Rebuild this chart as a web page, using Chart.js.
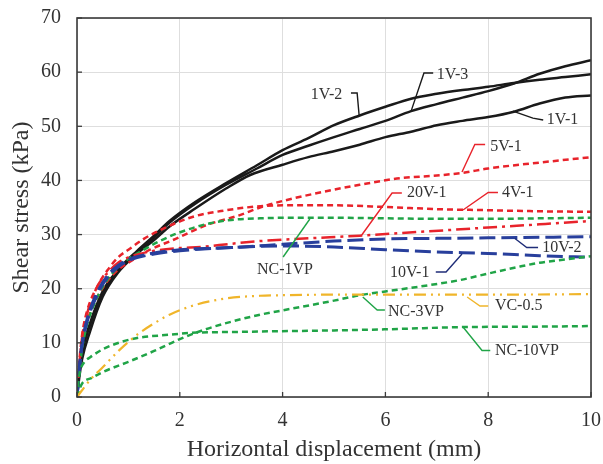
<!DOCTYPE html>
<html>
<head>
<meta charset="utf-8">
<script src="https://cdn.jsdelivr.net/npm/chart.js@4.4.1/dist/chart.umd.min.js"></script>
<style>
html,body{margin:0;padding:0;background:#fff;}
#wrap{width:603px;height:464px;}
</style>
</head>
<body>
<div id="wrap"><canvas id="c" width="603" height="464"></canvas></div>
<script>
// ---- data (x: horizontal displacement mm, y: shear stress kPa) ----
const xTicks = [0, 2, 4, 6, 8, 10];
const yTicks = [0, 10, 20, 30, 40, 50, 60, 70];

const s1V2_x = [0,0.05,0.1,0.25,0.5,0.8,1.17,1.5,1.8,2.3,2.9,3.5,4,4.5,5,5.5,6,6.5,7,7.5,8,8.5,9,9.5,10];
const s1V2_y = [0,5,8.5,13.5,19.5,23.5,27,29.8,32.5,36,39.5,42.8,45.6,47.8,50.2,52,53.6,55.1,56,56.7,57.3,58,58.6,59.1,59.6];
const s1V3_x = [0,0.05,0.1,0.25,0.5,0.8,1.17,1.5,1.8,2.3,2.9,3.5,4,4.5,5,5.5,6,6.5,7,7.5,8,8.5,9,9.5,10];
const s1V3_y = [0,5,8.3,13.2,19.2,23.3,26.8,29.5,32.2,35.7,39.2,42.2,44.7,46.4,48,49.5,51,52.8,54.1,55.3,56.5,57.9,59.7,61.1,62.2];
const s1V1_x = [0,0.05,0.1,0.25,0.5,0.8,1.17,1.5,1.8,2.3,2.9,3.37,4,4.5,5,5.5,6,6.5,7,7.5,8,8.5,9,9.5,10];
const s1V1_y = [0,4,7,12,18.5,23,26.5,29,31.5,34.8,38.5,41,42.9,44.3,45.4,46.6,48,49,50.2,51,51.7,52.7,54.2,55.3,55.7];

const s5V1_x = [0,0.05,0.1,0.2,0.4,0.6,0.8,1,1.42,1.87,2.53,3.17,3.56,4,5,5.5,6.28,7,7.5,8,9,10];
const s5V1_y = [0,6,10,14,18.5,21.5,23.5,24.8,27.2,29,31.8,33.6,35,36.2,38.3,39.2,40.4,40.9,41.4,42.2,43.3,44.3];
const s4V1_x = [0,0.05,0.1,0.2,0.4,0.6,0.8,1,1.3,1.61,2.26,2.91,3.5,4,5,6,7,8,9,10];
const s4V1_y = [0,7,11.5,16,20.5,23.5,25.8,27.2,29.2,30.8,33.3,34.5,35.2,35.4,35.4,35.1,34.7,34.5,34.3,34.2];
const s20V1_x = [0,0.05,0.1,0.2,0.4,0.6,0.8,1,1.5,2,2.4,3,3.56,4.5,5.5,6.67,8,9,10];
const s20V1_y = [0,6.5,11,15.5,20.5,23,24.8,25.8,27,27.5,27.7,28.3,28.8,29.3,29.8,30.5,31.3,31.9,32.5];

const s10V2_x = [0,0.05,0.1,0.2,0.4,0.6,0.8,1,1.5,2,3,4,5,6,7,8,9,10];
const s10V2_y = [0,6,10,14.5,19.5,22.5,24.3,25.4,26.6,27.2,27.6,28.2,28.8,29.2,29.3,29.4,29.5,29.6];
const s10V1_x = [0,0.05,0.1,0.2,0.4,0.6,0.8,1,1.5,2,3,4,5,6,7,8,9,10];
const s10V1_y = [0,5.5,9.5,14,19,22.2,24,25.2,26.4,27,27.6,27.9,27.7,27.2,26.8,26.5,26.1,25.8];

const sNC1_x = [0,0.05,0.1,0.2,0.4,0.6,0.8,1,1.28,1.61,1.94,2.59,3,3.56,4,5,6,7,8,9,10];
const sNC1_y = [0,5,9,13.5,18.5,21.8,24,25.5,27.1,28.8,30.2,32.1,32.7,33,33.1,33.1,33,32.9,32.9,33,33.1];
const sNC3_x = [0,0.05,0.1,0.3,0.5,1,1.5,2,2.5,3,3.56,4,5,5.5,6,6.67,7.45,8,8.62,9,9.5,10];
const sNC3_y = [0,1.5,2.5,3.6,4.6,6.5,8.5,10.7,12.5,13.9,15.2,16,17.8,18.8,19.5,20.4,21.6,22.8,24.1,24.8,25.4,26];
const sNC10_x = [0,0.03,0.06,0.15,0.25,0.5,0.84,1.17,1.8,2.33,3,3.56,5,6,7.45,9,10];
const sNC10_y = [0,3,4.8,6.5,7.3,8.8,10.1,10.9,11.5,11.9,12,12.1,12.3,12.5,12.9,13,13.1];
const sVC_x = [0,0.25,0.51,0.84,1.17,1.5,1.8,2.3,2.9,3.56,4,5,6,8,10];
const sVC_y = [0,3.1,5.6,8.8,11.5,13.6,15.2,17,18.2,18.7,18.8,18.9,18.9,18.9,19];

function pts(xs, ys){ return xs.map((x,i)=>({x:x, y:ys[i]})); }

const RED = '#e8232b', BLACK = '#1a1a1a', BLUE = '#283f9c', GREEN = '#20a447', ORANGE = '#f0b52a';
function ds(label, xs, ys, color, width, dash){
  return {label, data: pts(xs, ys), borderColor: color, borderWidth: width, borderDash: dash,
          pointRadius: 0, fill: false, cubicInterpolationMode: 'monotone', borderCapStyle: 'butt'};
}

const datasets = [
  ds('VC-0.5', sVC_x, sVC_y, ORANGE, 2.2, [12,5,2,5,2,5]),
  ds('NC-10VP', sNC10_x, sNC10_y, GREEN, 2.5, [6,4]),
  ds('NC-3VP', sNC3_x, sNC3_y, GREEN, 2.5, [6,4]),
  ds('10V-1', s10V1_x, s10V1_y, BLUE, 3, [16,6]),
  ds('10V-2', s10V2_x, s10V2_y, BLUE, 3, [16,6]),
  ds('20V-1', s20V1_x, s20V1_y, RED, 2.5, [14,5,3,5]),
  ds('NC-1VP', sNC1_x, sNC1_y, GREEN, 2.5, [6,4]),
  ds('4V-1', s4V1_x, s4V1_y, RED, 2.5, [6,4]),
  ds('5V-1', s5V1_x, s5V1_y, RED, 2.5, [6,4]),
  ds('1V-1', s1V1_x, s1V1_y, BLACK, 2.5, []),
  ds('1V-3', s1V3_x, s1V3_y, BLACK, 2.5, []),
  ds('1V-2', s1V2_x, s1V2_y, BLACK, 2.5, [])
];

// annotation labels with leader lines (data coordinates)
const notes = [
  {t:'1V-2', at:[4.55,55.8], c:BLACK, path:[[5.33,56.15],[5.45,56.15],[5.49,51.9]]},
  {t:'1V-3', at:[7.0,59.5], c:BLACK, path:[[6.93,59.85],[6.75,59.85],[6.5,52.8]]},
  {t:'1V-1', at:[9.14,51.2], c:BLACK, path:[[9.07,51.16],[8.87,51.5],[8.48,52.8]]},
  {t:'5V-1', at:[8.04,46.27], c:RED, path:[[7.94,46.64],[7.74,46.64],[7.49,41.56]]},
  {t:'20V-1', at:[6.42,37.68], c:RED, path:[[6.32,37.68],[6.13,37.68],[5.54,29.92]]},
  {t:'4V-1', at:[8.27,37.68], c:RED, path:[[8.19,37.77],[8.0,37.77],[7.51,34.54]]},
  {t:'NC-1VP', at:[3.5,23.46], c:GREEN, path:[[4.01,25.86],[4.53,32.88]]},
  {t:'10V-2', at:[9.05,27.61], c:'#1f2d78', path:[[8.97,27.61],[8.75,27.61],[8.52,29.28]]},
  {t:'10V-1', at:[6.09,22.9], c:'#1f2d78', path:[[6.98,23.09],[7.18,23.09],[7.49,26.41]]},
  {t:'NC-3VP', at:[6.05,15.79], c:GREEN, path:[[5.99,16.07],[5.84,16.07],[5.56,18.47]]},
  {t:'VC-0.5', at:[8.13,16.81], c:ORANGE, path:[[8.0,16.81],[7.84,16.81],[7.59,18.47]]},
  {t:'NC-10VP', at:[8.13,8.59], c:GREEN, path:[[8.04,8.59],[7.88,8.59],[7.51,12.93]]}
];

const FONT = '"Liberation Serif", "Times New Roman", serif';

const framePlugin = {
  id: 'frame',
  afterDatasetsDraw(chart){
    const {ctx, chartArea:a, scales:{x, y}} = chart;
    ctx.save();
    // leader lines + labels
    ctx.lineWidth = 1.4;
    notes.forEach(n=>{
      ctx.strokeStyle = n.c;
      ctx.beginPath();
      n.path.forEach((p,i)=>{
        const px = x.getPixelForValue(p[0]), py = y.getPixelForValue(p[1]);
        if(i===0) ctx.moveTo(px,py); else ctx.lineTo(px,py);
      });
      ctx.stroke();
    });
    ctx.fillStyle = '#333';
    ctx.font = '16px ' + FONT;
    ctx.textAlign = 'left';
    ctx.textBaseline = 'middle';
    notes.forEach(n=>{
      ctx.fillText(n.t, x.getPixelForValue(n.at[0]), y.getPixelForValue(n.at[1]));
    });
    // frame
    ctx.strokeStyle = '#3a3a3a';
    ctx.lineWidth = 1.6;
    ctx.strokeRect(a.left, a.top, a.right - a.left, a.bottom - a.top);
    // inward ticks
    ctx.lineWidth = 1.3;
    xTicks.forEach(v=>{
      const px = x.getPixelForValue(v);
      ctx.beginPath(); ctx.moveTo(px, a.bottom); ctx.lineTo(px, a.bottom - 5); ctx.stroke();
    });
    yTicks.forEach(v=>{
      const py = y.getPixelForValue(v);
      ctx.beginPath(); ctx.moveTo(a.left, py); ctx.lineTo(a.left + 5, py); ctx.stroke();
    });
    ctx.restore();
  }
};

function resetPad(s){ s.paddingTop = 0; s.paddingBottom = 0; s.paddingLeft = 0; s.paddingRight = 0; }

new Chart(document.getElementById('c'), {
  type: 'line',
  data: { datasets },
  options: {
    responsive: false,
    animation: false,
    devicePixelRatio: 1,
    layout: { padding: { left: 0, right: 12, top: 18, bottom: 0 } },
    plugins: { legend: { display: false }, tooltip: { enabled: false } },
    scales: {
      x: {
        type: 'linear', min: 0, max: 10,
        afterFit(s){ s.height = 67; resetPad(s); },
        afterBuildTicks(s){ s.ticks = xTicks.map(v=>({value:v})); },
        grid: { color: '#dedede', lineWidth: 1, drawTicks: false },
        border: { display: false },
        ticks: { padding: 12, color: '#333', font: { family: FONT, size: 20 } },
        title: { display: true, text: 'Horizontal displacement (mm)', color: '#333',
                 font: { family: FONT, size: 24 }, padding: { top: 0, bottom: 0 } }
      },
      y: {
        type: 'linear', min: 0, max: 70,
        afterFit(s){ s.width = 77; resetPad(s); },
        afterBuildTicks(s){ s.ticks = yTicks.map(v=>({value:v})); },
        grid: { color: '#dedede', lineWidth: 1, drawTicks: false },
        border: { display: false },
        ticks: { padding: 16, color: '#333', font: { family: FONT, size: 20 } },
        title: { display: true, text: 'Shear stress (kPa)', color: '#333',
                 font: { family: FONT, size: 24 }, padding: { top: 7, bottom: 0 } }
      }
    }
  },
  plugins: [framePlugin]
});
</script>
</body>
</html>
